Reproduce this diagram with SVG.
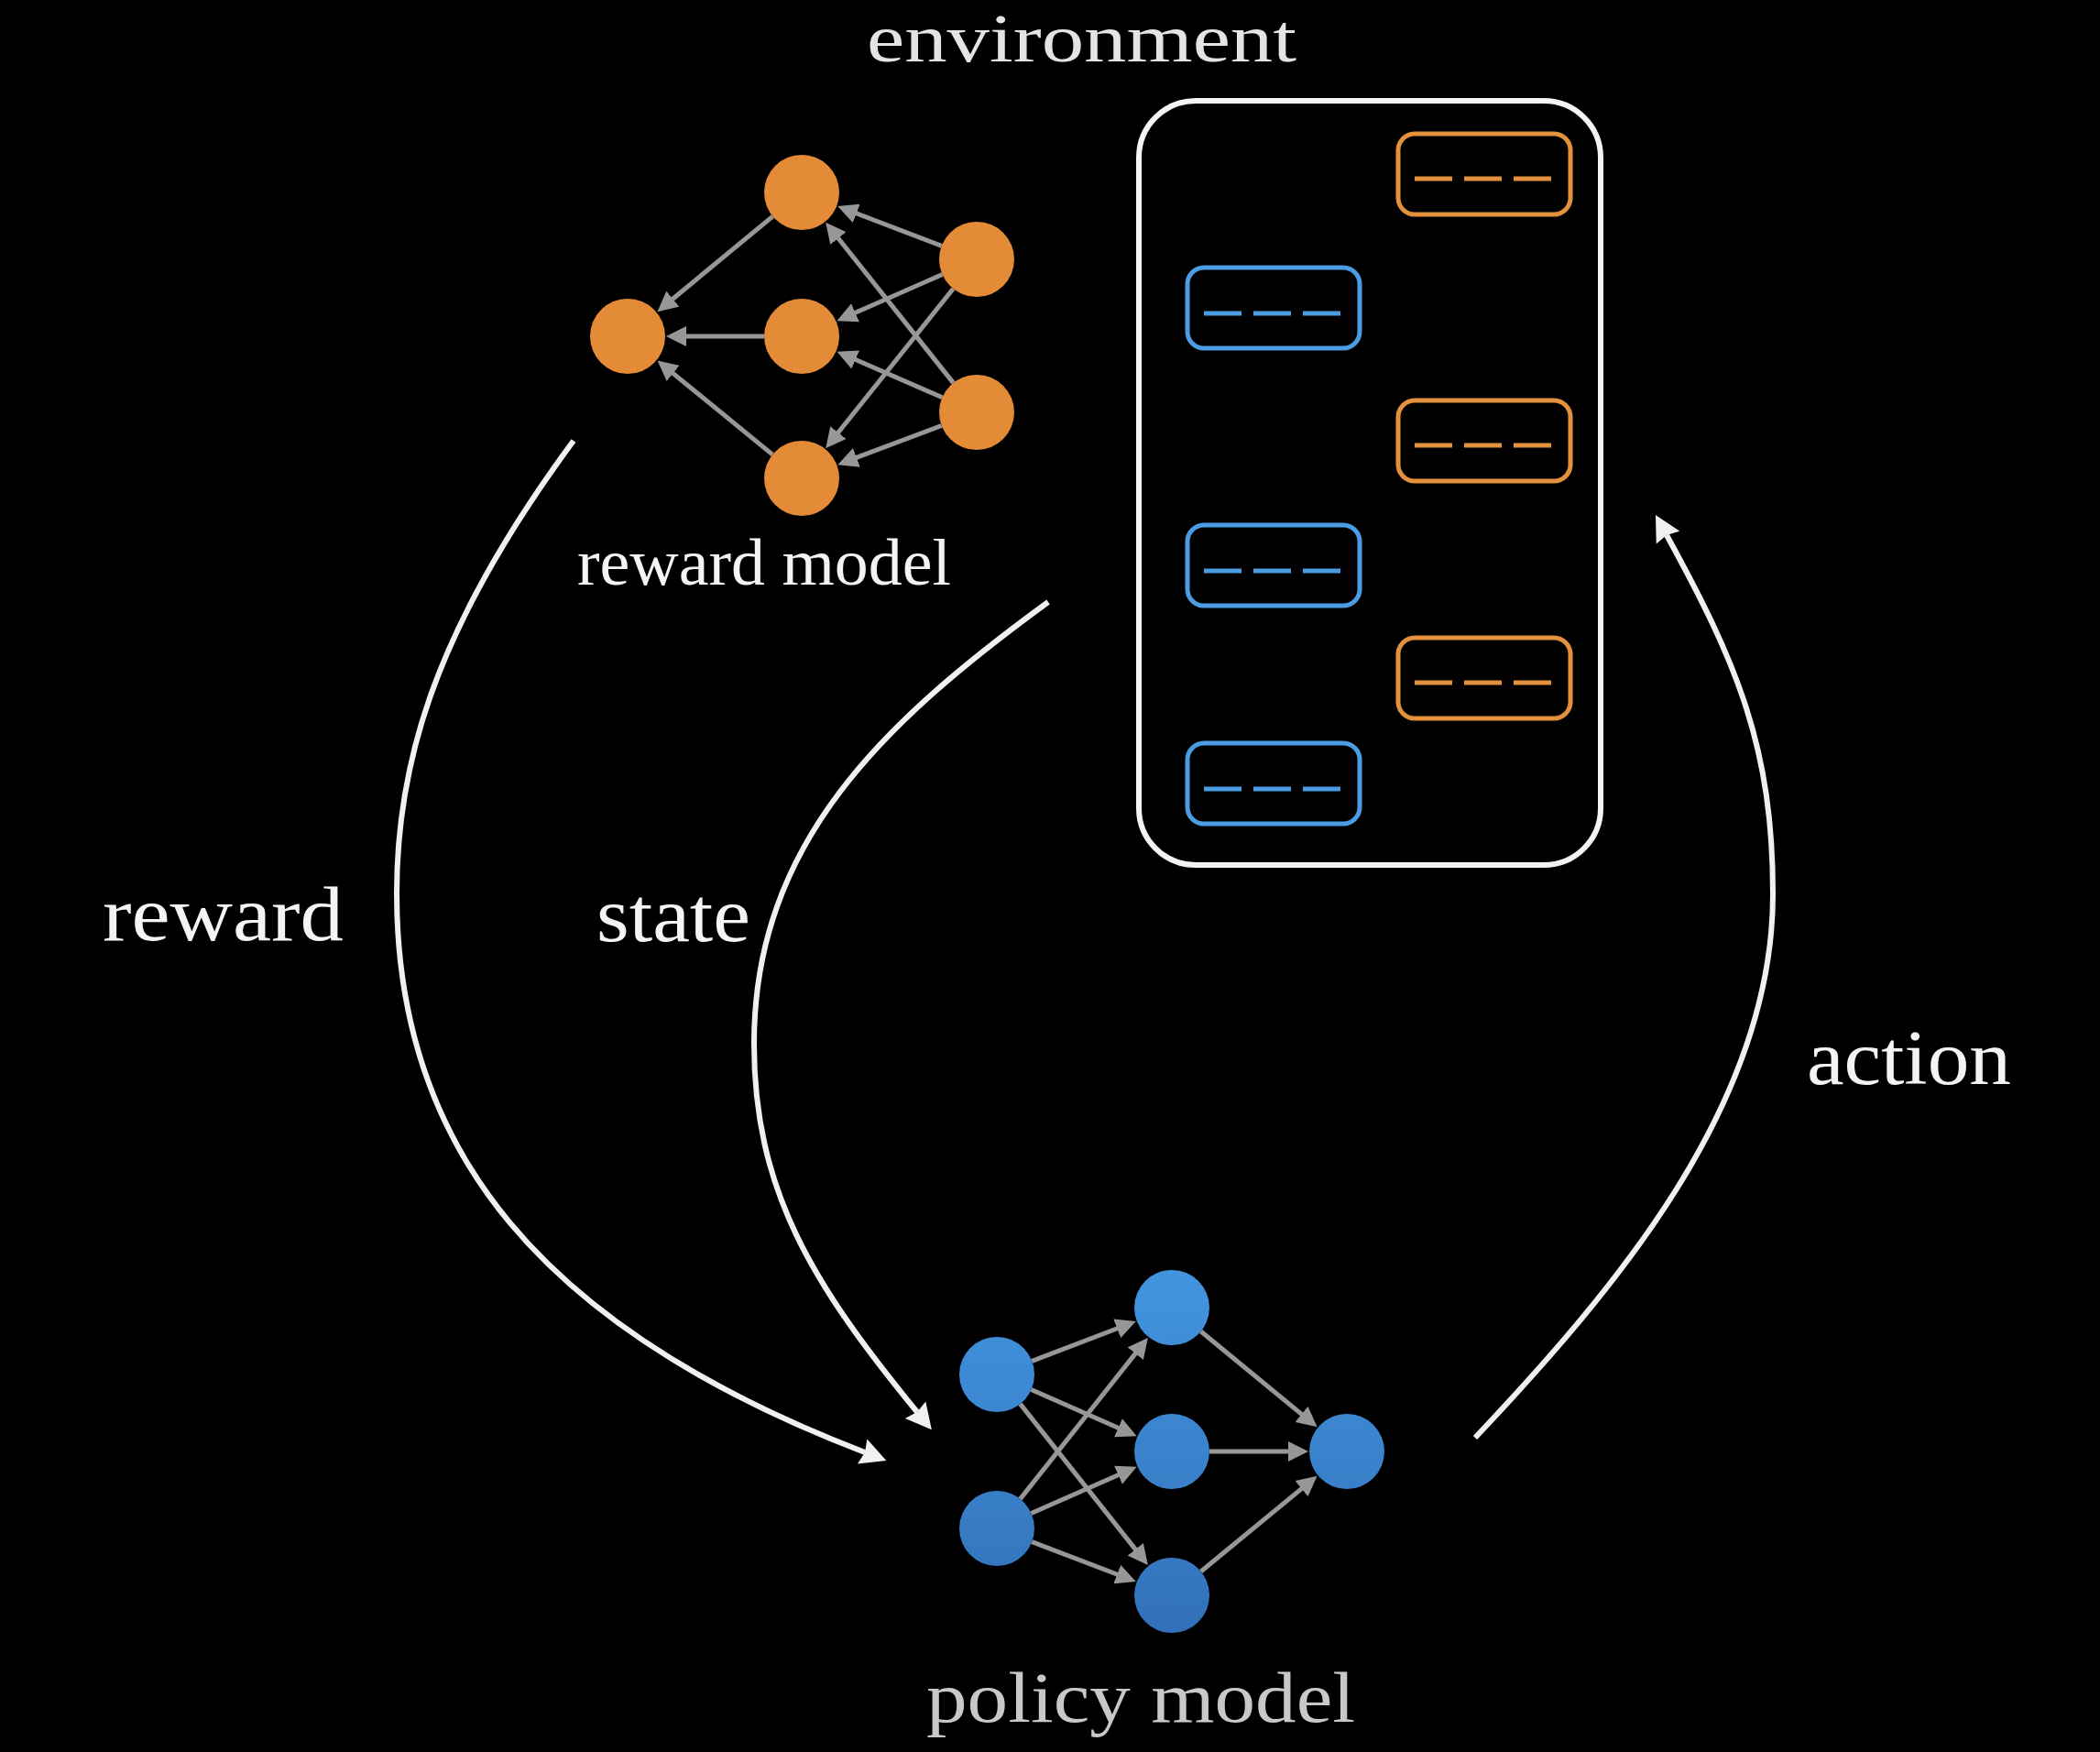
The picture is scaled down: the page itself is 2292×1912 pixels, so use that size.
<svg xmlns="http://www.w3.org/2000/svg" width="2292" height="1912" viewBox="0 0 2292 1912">
  <style>
    .lbl { font-family: "Liberation Serif", "Times New Roman", serif; fill: #f4f4f4; }
    .onode { fill: #E38B36; }
    .pnode { fill: url(#blueGrad); }
    .nn { stroke: #979797; stroke-width: 5; fill: none; marker-end: url(#smallArrow); }
    .big { stroke: #f0f0f0; stroke-width: 6; fill: none; marker-end: url(#bigArrow); }
    .obox { fill: none; stroke: #E3913C; stroke-width: 5; }
    .bbox { fill: none; stroke: #4B9CE2; stroke-width: 5; }
    .odash { stroke: #E3913C; stroke-width: 5; stroke-dasharray: 41 13; }
    .bdash { stroke: #4B9CE2; stroke-width: 5; stroke-dasharray: 41 13; }
  </style>
  <defs>
    <linearGradient id="blueGrad" gradientUnits="userSpaceOnUse" x1="0" y1="1380" x2="0" y2="1790">
      <stop offset="0" stop-color="#4395e0"/>
      <stop offset="1" stop-color="#3170b8"/>
    </linearGradient>
    <marker id="smallArrow" markerUnits="userSpaceOnUse" markerWidth="22" markerHeight="22" viewBox="0 0 22 22" refX="8" refY="11" orient="auto">
      <path d="M0,0 L22,11 L0,22 z" fill="#979797"/>
    </marker>
    <marker id="bigArrow" markerUnits="userSpaceOnUse" markerWidth="28" markerHeight="30" viewBox="0 0 28 30" refX="3" refY="15" orient="auto">
      <path d="M0,0.5 L28,15 L0,29.5 L3,15 z" fill="#f0f0f0"/>
    </marker>
  </defs>

  <rect x="0" y="0" width="2292" height="1912" fill="#000"/>

  <g id="environment">
    <text class="lbl" x="946" y="67" font-size="74" textLength="469" lengthAdjust="spacingAndGlyphs" style="fill:#e4e4e4">environment</text>
    <rect x="1243" y="110" width="504" height="834" rx="62" ry="62" fill="none" stroke="#f4f4f4" stroke-width="6"/>
    <g id="env-o1"><rect class="obox" x="1526" y="146" width="188" height="88" rx="18"/><line class="odash" x1="1544" y1="195" x2="1693" y2="195"/></g>
    <g id="env-b1"><rect class="bbox" x="1296" y="292" width="188" height="88" rx="18"/><line class="bdash" x1="1314" y1="342" x2="1463" y2="342"/></g>
    <g id="env-o2"><rect class="obox" x="1526" y="437" width="188" height="88" rx="18"/><line class="odash" x1="1544" y1="486" x2="1693" y2="486"/></g>
    <g id="env-b2"><rect class="bbox" x="1296" y="573" width="188" height="88" rx="18"/><line class="bdash" x1="1314" y1="623" x2="1463" y2="623"/></g>
    <g id="env-o3"><rect class="obox" x="1526" y="696" width="188" height="88" rx="18"/><line class="odash" x1="1544" y1="745" x2="1693" y2="745"/></g>
    <g id="env-b3"><rect class="bbox" x="1296" y="811" width="188" height="88" rx="18"/><line class="bdash" x1="1314" y1="861" x2="1463" y2="861"/></g>
  </g>

  <g id="reward-model">
    <g id="reward-edges">
      <line class="nn" x1="843.4" y1="236.1" x2="728.2" y2="331.3"/>
      <line class="nn" x1="834" y1="367" x2="741" y2="367"/>
      <line class="nn" x1="843.2" y1="496.1" x2="728.4" y2="402.4"/>
      <line class="nn" x1="1027.7" y1="268.4" x2="927.3" y2="230"/>
      <line class="nn" x1="1028.5" y1="299.5" x2="926.2" y2="344.5"/>
      <line class="nn" x1="1040.4" y1="315" x2="909.9" y2="478.3"/>
      <line class="nn" x1="1040.5" y1="417.9" x2="909.9" y2="253.8"/>
      <line class="nn" x1="1028.4" y1="433.7" x2="926.4" y2="389.3"/>
      <line class="nn" x1="1027.6" y1="464.5" x2="927.4" y2="502.2"/>
    </g>
    <circle class="onode" cx="685" cy="367" r="41"/>
    <circle class="onode" cx="875" cy="210" r="41"/>
    <circle class="onode" cx="875" cy="367" r="41"/>
    <circle class="onode" cx="875" cy="522" r="41"/>
    <circle class="onode" cx="1066" cy="283" r="41"/>
    <circle class="onode" cx="1066" cy="450" r="41"/>
    <text class="lbl" x="630" y="638" font-size="72" textLength="408" lengthAdjust="spacingAndGlyphs">reward model</text>
  </g>

  <g id="policy-model">
    <g id="policy-edges">
      <line class="nn" x1="1126.3" y1="1485.4" x2="1226.7" y2="1447"/>
      <line class="nn" x1="1125.5" y1="1516.5" x2="1227.8" y2="1561.5"/>
      <line class="nn" x1="1113.5" y1="1532.1" x2="1244.2" y2="1697.1"/>
      <line class="nn" x1="1113.5" y1="1635.9" x2="1244.2" y2="1470.9"/>
      <line class="nn" x1="1125.5" y1="1651.5" x2="1227.8" y2="1606.5"/>
      <line class="nn" x1="1126.3" y1="1682.6" x2="1226.7" y2="1721"/>
      <line class="nn" x1="1310.7" y1="1453" x2="1426.7" y2="1548.4"/>
      <line class="nn" x1="1320" y1="1584" x2="1414" y2="1584"/>
      <line class="nn" x1="1310.7" y1="1715" x2="1426.7" y2="1619.6"/>
    </g>
    <circle class="pnode" cx="1088" cy="1500" r="41"/>
    <circle class="pnode" cx="1088" cy="1668" r="41"/>
    <circle class="pnode" cx="1279" cy="1427" r="41"/>
    <circle class="pnode" cx="1279" cy="1584" r="41"/>
    <circle class="pnode" cx="1279" cy="1741" r="41"/>
    <circle class="pnode" cx="1470" cy="1584" r="41"/>
    <text class="lbl" x="1011" y="1879" font-size="78" textLength="468" lengthAdjust="spacingAndGlyphs" style="fill:#c8c8c8">policy model</text>
  </g>

  <g id="connectors">
    <path id="reward-arc" class="big" d="M 626 481 C 470 692, 433 839, 433 975 C 433 1255, 592 1450, 944 1585"/>
    <path id="state-arc" class="big" d="M 1144 657 C 966 787, 823 919, 823 1139 C 823 1299, 887 1402, 1001 1541"/>
    <path id="action-arc" class="big" d="M 1610 1569 C 1761 1409, 1935 1206, 1935 976 C 1935 816, 1896 724, 1819 584"/>
    <text class="lbl" x="112" y="1026" font-size="84" textLength="263" lengthAdjust="spacingAndGlyphs">reward</text>
    <text class="lbl" x="651" y="1027" font-size="84" textLength="168" lengthAdjust="spacingAndGlyphs">state</text>
    <text class="lbl" x="1972" y="1183" font-size="84" textLength="223" lengthAdjust="spacingAndGlyphs">action</text>
  </g>
</svg>
